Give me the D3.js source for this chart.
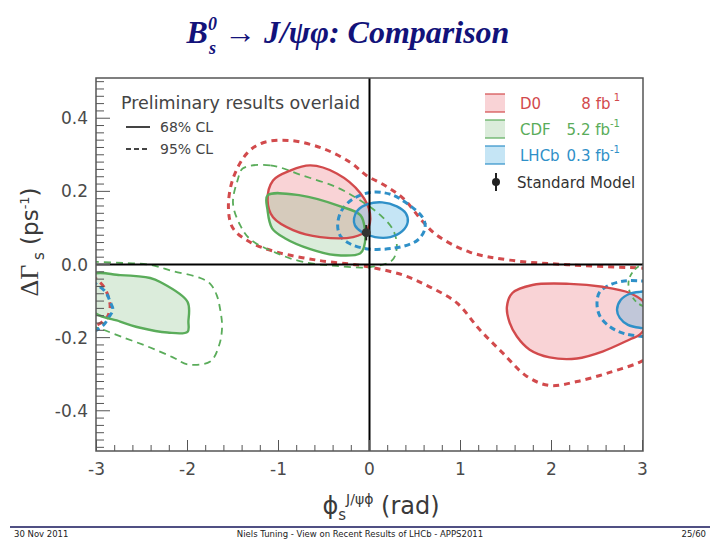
<!DOCTYPE html>
<html><head><meta charset="utf-8">
<script src="https://cdn.jsdelivr.net/npm/d3@7"></script>
<style>body{margin:0;background:#fff}</style>
</head><body><svg id="c" width="720" height="540" xmlns="http://www.w3.org/2000/svg"></svg>
<script>
// ---- data (phi_s [rad], DeltaGamma_s [ps^-1]) ----
const xTicks = [-3, -2, -1, 0, 1, 2, 3];
const xTickLabels = ["-3", "-2", "-1", "0", "1", "2", "3"];
const yTicks = [-0.4, -0.2, 0.0, 0.2, 0.4];
const yTickLabels = ["-0.4", "-0.2", "0.0", "0.2", "0.4"];

const experiments = ["D0", "CDF", "LHCb"];
const lumis = ["8 fb", "5.2 fb", "0.3 fb"];
const lumiSup = [" 1", "-1", "-1"];

// D0 68% CL (two islands)
const d0_68_a = [[-1.12,0.175],[-1.06,0.230],[-0.87,0.257],[-0.65,0.271],[-0.36,0.249],[-0.10,0.195],[0.005,0.140],[-0.03,0.094],[-0.18,0.075],[-0.54,0.075],[-0.84,0.094],[-1.06,0.129]];
const d0_68_b = [[1.51,-0.116],[1.57,-0.078],[1.79,-0.056],[2.20,-0.053],[2.56,-0.061],[2.86,-0.078],[3.02,-0.105],[3.06,-0.151],[2.97,-0.192],[2.86,-0.205],[2.56,-0.238],[2.28,-0.257],[1.98,-0.254],[1.76,-0.233],[1.62,-0.197],[1.54,-0.159]];
// D0 95% CL (open, leaves the right edge twice) + wrapped piece at phi=-3
const d0_95_a = [[3.05,-0.011],[3.00,-0.010],[2.20,-0.001],[1.54,0.012],[1.10,0.034],[0.74,0.080],[0.59,0.116],[0.37,0.181],[0.17,0.216],[-0.03,0.243],[-0.21,0.279],[-0.51,0.317],[-0.87,0.339],[-1.17,0.333],[-1.34,0.306],[-1.50,0.235],[-1.55,0.154],[-1.50,0.099],[-1.31,0.061],[-1.02,0.034],[-0.58,0.012],[-0.14,-0.001],[0.005,-0.007],[0.37,-0.029],[0.66,-0.061],[0.96,-0.105],[1.21,-0.178],[1.46,-0.241],[1.73,-0.306],[1.98,-0.331],[2.28,-0.320],[2.64,-0.295],[3.00,-0.263],[3.05,-0.250]];
const d0_95_b = [[-3.05,-0.030],[-2.99,-0.042],[-2.92,-0.061],[-2.87,-0.088],[-2.85,-0.116],[-2.88,-0.143],[-2.93,-0.156],[-2.99,-0.165],[-3.05,-0.172]];

// CDF 68% CL
const cdf_68_a = [[-1.12,0.189],[-0.76,0.189],[-0.32,0.159],[-0.10,0.135],[-0.05,0.094],[-0.06,0.048],[-0.10,0.031],[-0.38,0.026],[-0.65,0.042],[-0.93,0.072],[-1.07,0.099],[-1.12,0.148]];
const cdf_68_b = [[-3.05,-0.029],[-2.74,-0.029],[-2.41,-0.037],[-2.30,-0.048],[-2.00,-0.102],[-1.99,-0.156],[-2.00,-0.184],[-2.22,-0.186],[-2.52,-0.173],[-2.74,-0.156],[-3.05,-0.125]];
// CDF 95% CL
const cdf_95_a = [[-1.39,0.263],[-1.09,0.271],[-0.73,0.243],[-0.36,0.211],[-0.10,0.175],[0.12,0.135],[0.26,0.094],[0.30,0.048],[0.25,0.012],[0.005,-0.007],[-0.36,-0.004],[-0.73,0.007],[-1.02,0.031],[-1.31,0.069],[-1.42,0.107],[-1.50,0.167],[-1.45,0.230]];
const cdf_95_b = [[-3.05,0.008],[-2.99,0.007],[-2.70,0.004],[-2.41,-0.001],[-2.16,-0.018],[-1.86,-0.037],[-1.75,-0.053],[-1.68,-0.083],[-1.64,-0.124],[-1.62,-0.170],[-1.65,-0.219],[-1.75,-0.265],[-2.00,-0.273],[-2.16,-0.254],[-2.41,-0.227],[-2.70,-0.200],[-2.99,-0.173],[-3.05,-0.170]];
const cdf_95_c = [[3.05,0.004],[3.00,0.001],[2.91,-0.015],[2.85,-0.042],[2.86,-0.075],[2.93,-0.102],[3.00,-0.113],[3.05,-0.116]];

// LHCb 68% CL
const lhcb_68_a = [[-0.17,0.126],[-0.13,0.148],[-0.02,0.165],[0.14,0.170],[0.30,0.159],[0.40,0.140],[0.42,0.116],[0.36,0.091],[0.23,0.075],[0.06,0.075],[-0.08,0.088],[-0.16,0.107]];
const lhcb_68_b = [[2.72,-0.124],[2.76,-0.097],[2.86,-0.080],[2.97,-0.075],[3.08,-0.075],[3.13,-0.124],[3.08,-0.173],[2.97,-0.173],[2.84,-0.165],[2.75,-0.146]];
// LHCb 95% CL
const lhcb_95_a = [[-0.35,0.107],[-0.31,0.146],[-0.19,0.178],[0.005,0.197],[0.23,0.192],[0.44,0.162],[0.59,0.126],[0.61,0.099],[0.53,0.067],[0.34,0.048],[0.005,0.042],[-0.21,0.056],[-0.32,0.078]];
const lhcb_95_b = [[3.05,-0.045],[3.00,-0.045],[2.80,-0.045],[2.64,-0.056],[2.53,-0.075],[2.50,-0.105],[2.53,-0.140],[2.64,-0.170],[2.80,-0.189],[3.00,-0.197],[3.05,-0.198]];
const lhcb_95_c = [[-3.05,-0.045],[-2.99,-0.056],[-2.90,-0.075],[-2.85,-0.102],[-2.82,-0.124],[-2.87,-0.146],[-2.92,-0.165],[-2.99,-0.178],[-3.05,-0.185]];

// Standard Model prediction
const smPhi = -0.036, smDG = 0.087, smErr = 0.021;

// ---- drawing ----
const svg = d3.select("#c");
const L = 96, R = 643, T = 78, B = 451;
const x = d3.scaleLinear().domain([-3, 3]).range([96.5, 642.5]);
const y = d3.scaleLinear().domain([-0.51, 0.51]).range([451, 78]);

const col = {D0: "#d24a4c", CDF: "#5aac5a", LHCb: "#2f90c8"};
const fillc = {D0: "rgba(236,110,120,0.30)", CDF: "rgba(110,180,110,0.25)", LHCb: "rgba(80,175,225,0.33)"};

svg.append("defs").append("clipPath").attr("id", "pa")
  .append("rect").attr("x", L).attr("y", T).attr("width", R - L).attr("height", B - T);

const g = svg.append("g").attr("clip-path", "url(#pa)");
const closedLine = d3.line().x(d => x(d[0])).y(d => y(d[1])).curve(d3.curveCatmullRomClosed.alpha(0.5));
const openLine = d3.line().x(d => x(d[0])).y(d => y(d[1])).curve(d3.curveCatmullRom.alpha(0.5));

// fills
[[d0_68_a, "D0"], [d0_68_b, "D0"], [cdf_68_a, "CDF"], [cdf_68_b, "CDF"], [lhcb_68_a, "LHCb"], [lhcb_68_b, "LHCb"]]
  .forEach(([pts, k]) => g.append("path").attr("d", closedLine(pts)).attr("fill", fillc[k]).attr("stroke", "none"));

// 95% dashed contours
const dashed = [
  [d0_95_a, "D0", false, 3, "6,5"], [d0_95_b, "D0", false, 3, "6,5"],
  [cdf_95_a, "CDF", true, 1.8, "7,5"], [cdf_95_b, "CDF", false, 1.8, "7,5"], [cdf_95_c, "CDF", false, 1.8, "5,4"],
  [lhcb_95_a, "LHCb", true, 3, "6,4"], [lhcb_95_b, "LHCb", false, 3, "6,4"], [lhcb_95_c, "LHCb", false, 3, "6,4"]
];
dashed.forEach(([pts, k, closed, w, da]) => g.append("path")
  .attr("d", closed ? closedLine(pts) : openLine(pts))
  .attr("fill", "none").attr("stroke", col[k]).attr("stroke-width", w).attr("stroke-dasharray", da));

// 68% solid contours
[[d0_68_a, "D0"], [d0_68_b, "D0"], [cdf_68_a, "CDF"], [cdf_68_b, "CDF"], [lhcb_68_a, "LHCb"], [lhcb_68_b, "LHCb"]]
  .forEach(([pts, k]) => g.append("path").attr("d", closedLine(pts)).attr("fill", "none")
    .attr("stroke", col[k]).attr("stroke-width", 2.4));

// zero lines
svg.append("line").attr("x1", L).attr("x2", R).attr("y1", y(0)).attr("y2", y(0)).attr("stroke", "#000").attr("stroke-width", 2);
svg.append("line").attr("x1", x(0)).attr("x2", x(0)).attr("y1", T).attr("y2", B).attr("stroke", "#000").attr("stroke-width", 2);

// SM point
svg.append("line").attr("x1", x(smPhi)).attr("x2", x(smPhi)).attr("y1", y(smDG + smErr)).attr("y2", y(smDG - smErr)).attr("stroke", "#222").attr("stroke-width", 2);
svg.append("circle").attr("cx", x(smPhi)).attr("cy", y(smDG)).attr("r", 4.5).attr("fill", "#333");

// frame
svg.append("rect").attr("x", L).attr("y", T).attr("width", R - L).attr("height", B - T)
  .attr("fill", "none").attr("stroke", "#555").attr("stroke-width", 1.5);

// ticks (inside)
const yMinor = d3.range(-25, 26).map(i => i * 0.02);
yMinor.forEach(v => {
  const major = Math.abs(Math.round(v * 10) - v * 10) < 1e-6 && Math.round(v * 10) % 2 === 0;
  svg.append("line").attr("x1", L).attr("x2", L + (major ? 14 : 8)).attr("y1", y(v)).attr("y2", y(v))
    .attr("stroke", "#555").attr("stroke-width", 1);
});
const xMinor = d3.range(-15, 16).map(i => i * 0.2);
xMinor.forEach(v => {
  const major = Math.abs(v - Math.round(v)) < 1e-6;
  svg.append("line").attr("x1", x(v)).attr("x2", x(v)).attr("y1", B).attr("y2", B - (major ? 11 : 6))
    .attr("stroke", "#555").attr("stroke-width", 1);
});

// tick labels
const tickFont = "'DejaVu Sans', sans-serif";
yTicks.forEach((v, i) => svg.append("text").attr("x", 88).attr("y", y(v) + 6).attr("text-anchor", "end")
  .attr("font-family", tickFont).attr("font-size", 17).attr("fill", "#4a4a4a").text(yTickLabels[i]));
xTicks.forEach((v, i) => svg.append("text").attr("x", x(v)).attr("y", 475).attr("text-anchor", "middle")
  .attr("font-family", tickFont).attr("font-size", 17).attr("fill", "#4a4a4a").text(xTickLabels[i]));

// axis titles
const xt = svg.append("text").attr("x", 381).attr("y", 514).attr("text-anchor", "middle")
  .attr("font-family", tickFont).attr("font-size", 24).attr("fill", "#3a3a3a");
xt.append("tspan").text("ϕ");
xt.append("tspan").attr("font-size", 15).attr("dy", 6).text("s");
xt.append("tspan").attr("font-size", 14).attr("dy", -16).text("J/ψϕ");
xt.append("tspan").attr("dy", 10).text("  (rad)");

const yt = svg.append("text").attr("transform", "translate(38,242) rotate(-90)").attr("text-anchor", "middle")
  .attr("font-family", tickFont).attr("font-size", 23).attr("fill", "#3a3a3a");
yt.append("tspan").attr("font-family", "'Liberation Serif', serif").attr("font-size", 26).text("ΔΓ");
yt.append("tspan").attr("font-size", 15).attr("dy", 6).text(" s");
yt.append("tspan").attr("dy", -6).text(" (ps");
yt.append("tspan").attr("font-size", 13).attr("dy", -9).text("-1");
yt.append("tspan").attr("dy", 9).text(")");

// legend left
svg.append("text").attr("x", 121).attr("y", 109).attr("font-family", tickFont).attr("font-size", 17.5)
  .attr("fill", "#444").text("Preliminary results overlaid");
const clLabels = ["68% CL", "95% CL"];
clLabels.forEach((t, i) => {
  const yy = 127 + i * 22;
  svg.append("line").attr("x1", 126).attr("x2", 150).attr("y1", yy).attr("y2", yy).attr("stroke", "#444")
    .attr("stroke-width", 2).attr("stroke-dasharray", i ? "5,3" : null);
  svg.append("text").attr("x", 160).attr("y", yy + 5).attr("font-family", tickFont).attr("font-size", 14)
    .attr("fill", "#444").text(t);
});

// legend right
experiments.forEach((k, i) => {
  const yc = 103 + i * 26;
  svg.append("rect").attr("x", 485).attr("y", yc - 9).attr("width", 20).attr("height", 18).attr("fill", fillc[k]);
  svg.append("line").attr("x1", 485).attr("x2", 505).attr("y1", yc - 9).attr("y2", yc - 9).attr("stroke", col[k]).attr("stroke-width", 1.2);
  svg.append("line").attr("x1", 485).attr("x2", 505).attr("y1", yc + 9).attr("y2", yc + 9).attr("stroke", col[k]).attr("stroke-width", 1.2);
  svg.append("text").attr("x", 520).attr("y", yc + 6).attr("font-family", tickFont).attr("font-size", 15)
    .attr("fill", col[k]).text(k);
  const lt = svg.append("text").attr("x", 620).attr("y", yc + 6).attr("text-anchor", "end").attr("font-family", tickFont)
    .attr("font-size", 15).attr("fill", col[k]);
  lt.append("tspan").text(lumis[i]);
  lt.append("tspan").attr("font-size", 10).attr("dy", -8).text(lumiSup[i]);
});
svg.append("line").attr("x1", 496).attr("x2", 496).attr("y1", 173).attr("y2", 191).attr("stroke", "#222").attr("stroke-width", 2);
svg.append("circle").attr("cx", 496).attr("cy", 182).attr("r", 4).attr("fill", "#222");
svg.append("text").attr("x", 517).attr("y", 188).attr("font-family", tickFont).attr("font-size", 15)
  .attr("fill", "#333").text("Standard Model");

// title
const tt = svg.append("text").attr("x", 348).attr("y", 43).attr("text-anchor", "middle")
  .attr("font-family", "'Liberation Serif', serif").attr("font-weight", "bold").attr("font-style", "italic")
  .attr("font-size", 32).attr("fill", "#12127a");
tt.append("tspan").text("B");
tt.append("tspan").attr("font-size", 18).attr("dy", -13).text("0");
tt.append("tspan").attr("font-size", 18).attr("dx", -8).attr("dy", 24).text("s");
tt.append("tspan").attr("dy", -11).text(" → J/ψφ: Comparison");

// footer
svg.append("line").attr("x1", 10).attr("x2", 710).attr("y1", 527).attr("y2", 527).attr("stroke", "#16165a").attr("stroke-width", 1.5);
const ff = "'DejaVu Sans', sans-serif";
svg.append("text").attr("x", 14).attr("y", 537).attr("font-family", ff).attr("font-size", 8.5).attr("fill", "#222").text("30 Nov 2011");
svg.append("text").attr("x", 360).attr("y", 537).attr("text-anchor", "middle").attr("font-family", ff).attr("font-size", 8.5)
  .attr("fill", "#222").text("Niels Tuning  -  View on Recent Results of LHCb  -  APPS2011");
svg.append("text").attr("x", 706).attr("y", 537).attr("text-anchor", "end").attr("font-family", ff).attr("font-size", 8.5)
  .attr("fill", "#222").text("25/60");
</script></body></html>
